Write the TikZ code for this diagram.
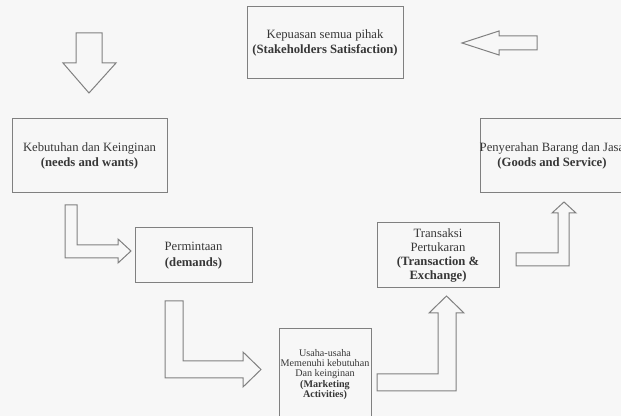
\documentclass[tikz,border=0pt]{standalone}
\usepackage{fontspec}
\setmainfont{Liberation Serif}
\newcommand{\diagfont}{\fontsize{9.5pt}{11.5pt}\selectfont}
\newcommand{\diagsmallfont}{\fontsize{7.6pt}{7.8pt}\selectfont}
\definecolor{bgcol}{RGB}{247,247,247}
\definecolor{linecol}{RGB}{128,128,128}
\definecolor{txtcol}{RGB}{55,55,55}

\tikzset{every picture/.style={line width=0.75pt}}

\begin{document}
\begin{tikzpicture}[x=0.75pt,y=0.75pt,yscale=-1,xscale=1,
  box/.style={draw=linecol, fill=bgcol, inner sep=0pt, align=center, text=txtcol, font=\diagfont},
  blockarrow/.style={draw=linecol, line join=miter}]
%set diagram left start at 0, and has height of 416
\useasboundingbox (0,0) rectangle (621,416);
\clip (0,0) rectangle (621,416);
\fill [bgcol] (0,0) rectangle (621,416);

% Text Node
\node (kepuasan) [box, minimum width=117pt, minimum height=54pt] at (325,43) {Kepuasan semua pihak\\\textbf{(Stakeholders Satisfaction)}};
% Text Node
\node (kebutuhan) [box, minimum width=116.25pt, minimum height=55.5pt] at (89.5,156) {Kebutuhan dan Keinginan\\\textbf{(needs and wants)}};
% Text Node
\node (penyerahan) [box, minimum width=108pt, minimum height=55.5pt] at (552,156) {\makebox[0pt]{Penyerahan Barang dan Jasa}\\\textbf{(Goods and Service)}};
% Text Node
\node (permintaan) [box, minimum width=87.75pt, minimum height=41.25pt] at (193.5,255.5) {Permintaan\\\textbf{(demands)}};
% Text Node
\node (transaksi) [box, minimum width=91.5pt, minimum height=48.75pt, font=\fontsize{9.5pt}{10.7pt}\selectfont] at (438,255.5) {Transaksi\\Pertukaran\\\textbf{(Transaction \&}\\\textbf{Exchange)}};
% Text Node
\node (usaha) [box, minimum width=69pt, minimum height=68.25pt, font=\diagsmallfont] at (325,374.5) {Usaha-usaha\\Memenuhi kebutuhan\\Dan keinginan\\\textbf{(Marketing}\\\textbf{Activities)}};

%Shape: Down Arrow
\draw [blockarrow] (76,33) -- (102,33) -- (102,63) -- (116,63) -- (89,93) -- (63,63) -- (76,63) -- cycle ;
%Shape: Left Arrow
\draw [blockarrow] (537,36) -- (537,50) -- (499,50) -- (499,55) -- (462,43) -- (499,31) -- (499,36) -- cycle ;
%Shape: Bent Arrow
\draw [blockarrow] (65,205) -- (77,205) -- (77,245) -- (118,245) -- (118,239) -- (131,251) -- (118,263) -- (118,258) -- (65,258) -- cycle ;
%Shape: Bent Arrow
\draw [blockarrow] (165,301) -- (183,301) -- (183,361) -- (243,361) -- (243,352) -- (261,369.5) -- (243,387) -- (243,378) -- (165,378) -- cycle ;
%Shape: Bent Up Arrow
\draw [blockarrow] (377,374) -- (438,374) -- (438,313) -- (429,313) -- (446.5,296) -- (464,313) -- (456,313) -- (456,391) -- (377,391) -- cycle ;
%Shape: Bent Up Arrow
\draw [blockarrow] (516,253) -- (558,253) -- (558,213) -- (552,213) -- (564,202) -- (576,213) -- (569,213) -- (569,266) -- (516,266) -- cycle ;

\end{tikzpicture}
\end{document}
